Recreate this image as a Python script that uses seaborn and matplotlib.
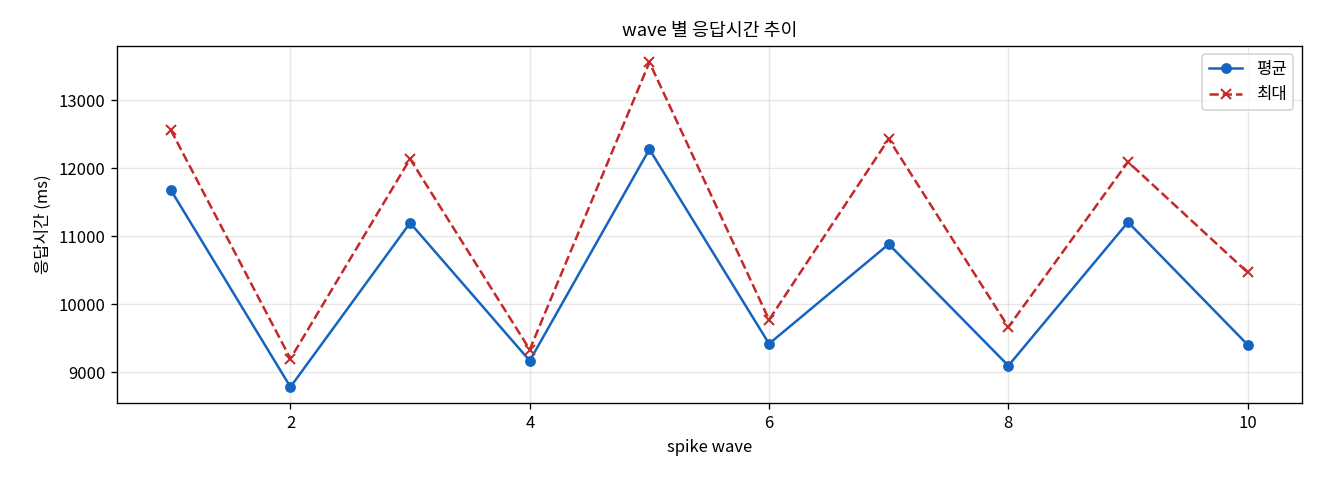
import numpy as np
import pandas as pd
import matplotlib
matplotlib.use("Agg")
import matplotlib.pyplot as plt
import seaborn as sns

# datos
waves = [1, 2, 3, 4, 5, 6, 7, 8, 9, 10]
avg_ms = [11680, 8780, 11195, 9166, 12279, 9416, 10882, 9093, 11206, 9401]
max_ms = [12563, 9196, 12137, 9330, 13559, 9769, 12431, 9662, 12093, 10465]

plt.rcParams['font.family'] = ['Noto Sans CJK KR', 'DejaVu Sans']
plt.rcParams['axes.unicode_minus'] = False

df = pd.DataFrame({"wave": waves, "평균": avg_ms, "최대": max_ms})

fig, ax = plt.subplots(figsize=(11, 4), dpi=120)
sns.lineplot(data=df, x="wave", y="평균", marker="o", color="#1565C0",
             markeredgewidth=0, markersize=6.5, label="평균", ax=ax)
sns.lineplot(data=df, x="wave", y="최대", marker="x", color="#C62828",
             markeredgecolor="#C62828", markeredgewidth=1.2,
             linestyle="--", markersize=6.5, label="최대", ax=ax)
ax.set_title("wave 별 응답시간 추이", fontsize=11)
ax.set_xlabel("spike wave", fontsize=10)
ax.set_ylabel("응답시간 (ms)", fontsize=10)
ax.tick_params(labelsize=10)
ax.grid(True, alpha=0.3)
ax.legend(loc="upper right", fontsize=10)
fig.subplots_adjust(left=0.0886, right=0.986, top=0.904, bottom=0.160)
plt.savefig("out.png")
